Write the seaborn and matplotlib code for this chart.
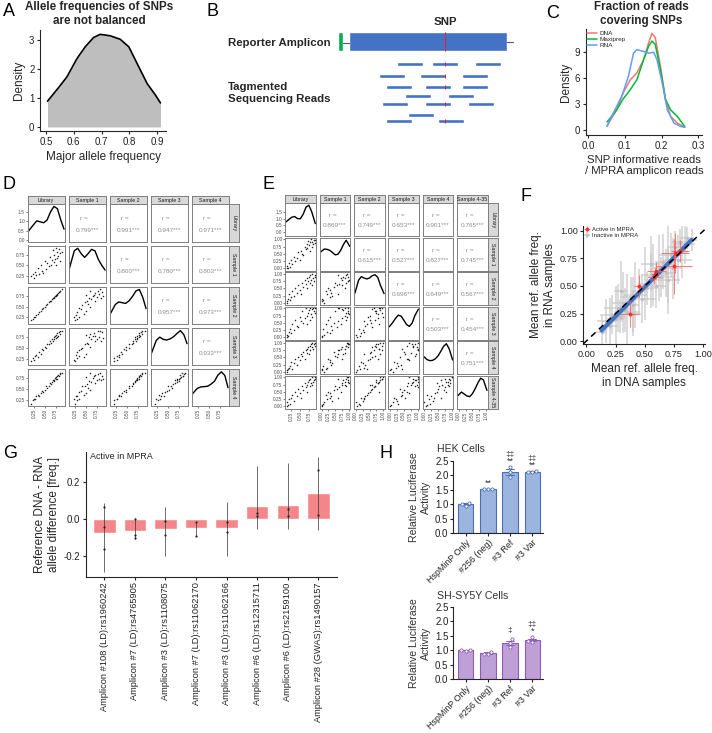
import matplotlib
matplotlib.use("Agg")
import matplotlib.pyplot as plt
import numpy as np
import pandas as pd
import seaborn as sns

W, H = 712, 733

# ---------------- A: major allele frequency density
maf_x = [0.505, 0.545, 0.575, 0.611, 0.641, 0.671, 0.695, 0.731, 0.767, 0.798, 0.828, 0.864, 0.894, 0.912]
maf_density = [0.89, 1.36, 1.73, 2.36, 2.77, 3.09, 3.2, 3.15, 3.03, 2.77, 2.19, 1.5, 1.1, 0.83]

# ---------------- B: reads along the reporter amplicon (amplicon units)
amplicon_len = 158
snp_pos = 96
read_len = 26
read_lanes = [64, 76, 87, 96, 104, 115, 121]
read_starts = [[48, 83, 126], [30, 71, 113], [37, 76, 113], [56, 99], [33, 76, 119], [59], [37, 89]]

# ---------------- C: fraction of reads covering SNPs
dna_x = [0.052, 0.078, 0.096, 0.115, 0.133, 0.151, 0.165, 0.174, 0.183, 0.197, 0.211, 0.225, 0.243, 0.263]
dna_y = [0.47, 2.3, 4.3, 5.8, 6.6, 8.1, 10.1, 11.2, 10.7, 7.4, 3.5, 1.55, 0.78, 0.3]
maxi_x = [0.052, 0.078, 0.096, 0.115, 0.133, 0.151, 0.165, 0.174, 0.183, 0.197, 0.211, 0.225, 0.243, 0.263]
maxi_y = [0.9, 2.3, 3.6, 4.65, 5.8, 8.1, 9.7, 10.3, 9.9, 7.0, 3.5, 2.3, 1.55, 0.39]
rna_x = [0.052, 0.069, 0.092, 0.11, 0.124, 0.133, 0.151, 0.165, 0.179, 0.188, 0.202, 0.216, 0.234, 0.252, 0.263]
rna_y = [0.39, 1.94, 3.9, 6.2, 8.9, 9.3, 9.1, 8.9, 9.0, 8.1, 5.4, 2.3, 0.78, 0.39, 0.3]

# ---------------- D: pairs of allele frequencies (plasmid samples)
d_names = ["Library", "Sample 1", "Sample 2", "Sample 3", "Sample 4"]
d_lib = [0.18, 0.22, 0.25, 0.28, 0.30, 0.33, 0.36, 0.40, 0.43, 0.46, 0.50, 0.53, 0.56, 0.60, 0.62,
         0.65, 0.67, 0.69, 0.70, 0.72, 0.73, 0.75, 0.76, 0.78, 0.79, 0.80, 0.82, 0.84, 0.86, 0.90]
d_s1 = [0.25, 0.30, 0.22, 0.35, 0.28, 0.45, 0.30, 0.50, 0.38, 0.33, 0.60, 0.42, 0.55, 0.48, 0.70,
        0.52, 0.62, 0.85, 0.58, 0.75, 0.66, 0.90, 0.50, 0.80, 0.68, 0.72, 0.88, 0.60, 0.78, 0.82]
d_s2 = [0.19, 0.21, 0.26, 0.27, 0.31, 0.32, 0.37, 0.39, 0.44, 0.47, 0.49, 0.54, 0.55, 0.61, 0.63,
        0.64, 0.68, 0.70, 0.69, 0.73, 0.74, 0.74, 0.77, 0.79, 0.78, 0.81, 0.83, 0.85, 0.85, 0.91]
d_s3 = [0.20, 0.26, 0.23, 0.32, 0.33, 0.30, 0.40, 0.36, 0.48, 0.44, 0.52, 0.50, 0.60, 0.58, 0.66,
        0.62, 0.70, 0.66, 0.75, 0.71, 0.78, 0.72, 0.80, 0.76, 0.84, 0.78, 0.86, 0.82, 0.88, 0.90]
d_s4 = [0.16, 0.24, 0.27, 0.26, 0.33, 0.36, 0.34, 0.42, 0.45, 0.43, 0.48, 0.56, 0.52, 0.58, 0.65,
        0.62, 0.66, 0.72, 0.68, 0.70, 0.76, 0.73, 0.78, 0.74, 0.80, 0.83, 0.79, 0.86, 0.84, 0.88]
d_grid = [0.11, 0.23, 0.31, 0.39, 0.47, 0.55, 0.63, 0.71, 0.79, 0.87, 0.945]
d_dens = [[0.47, 0.81, 1.03, 0.98, 0.93, 1.07, 1.5, 1.79, 1.67, 1.07, 0.59],
          [0.37, 0.88, 0.95, 0.8, 0.7, 0.8, 0.92, 0.88, 0.64, 0.48, 0.35],
          [0.27, 0.53, 0.6, 0.58, 0.56, 0.63, 0.75, 0.9, 0.94, 0.72, 0.42],
          [0.31, 0.69, 0.78, 0.72, 0.7, 0.73, 0.79, 0.88, 0.96, 0.85, 0.6],
          [0.34, 0.5, 0.54, 0.55, 0.56, 0.62, 0.7, 0.87, 0.96, 0.86, 0.52]]
d_r = ["0.799", "0.991", "0.947", "0.971", "0.800", "0.780", "0.803", "0.957", "0.973", "0.933"]

# ---------------- E: pairs of allele frequencies (RNA samples)
e_names = ["Library", "Sample 1", "Sample 2", "Sample 3", "Sample 4", "Sample 4-35"]
e_lib = [0.12, 0.14, 0.16, 0.18, 0.20, 0.25, 0.28, 0.32, 0.36, 0.40, 0.44, 0.48, 0.52, 0.55, 0.58,
         0.62, 0.65, 0.68, 0.70, 0.72, 0.74, 0.76, 0.78, 0.80, 0.82, 0.84, 0.86, 0.88, 0.90, 0.92]
e_s1 = [0.02, 0.10, 0.00, 0.20, 0.05, 0.30, 0.15, 0.40, 0.25, 0.35, 0.55, 0.30, 0.60, 0.50, 0.45,
        0.75, 0.65, 0.85, 0.70, 0.95, 0.80, 0.90, 0.60, 1.00, 0.75, 0.92, 0.85, 0.98, 0.88, 0.96]
e_s2 = [0.05, 0.00, 0.15, 0.30, 0.10, 0.20, 0.40, 0.25, 0.50, 0.35, 0.60, 0.45, 0.30, 0.70, 0.55,
        0.80, 0.65, 0.50, 0.85, 0.75, 0.90, 0.70, 0.95, 0.80, 0.60, 1.00, 0.85, 0.75, 0.95, 0.90]
e_s3 = [0.00, 0.10, 0.05, 0.20, 0.30, 0.15, 0.45, 0.25, 0.60, 0.40, 0.35, 0.70, 0.55, 0.90, 0.50,
        0.65, 1.00, 0.75, 0.45, 0.85, 0.95, 0.60, 1.00, 0.80, 0.98, 0.70, 1.00, 0.90, 0.85, 1.00]
e_s4 = [0.05, 0.00, 0.10, 0.15, 0.20, 0.35, 0.10, 0.30, 0.45, 0.25, 0.50, 0.40, 0.60, 0.55, 0.70,
        0.45, 0.75, 0.65, 0.80, 0.85, 0.60, 0.90, 0.75, 0.95, 0.85, 1.00, 0.80, 0.95, 0.90, 1.00]
e_s435 = [0.00, 0.15, 0.05, 0.25, 0.10, 0.30, 0.40, 0.20, 0.50, 0.35, 0.60, 0.45, 0.30, 0.70, 0.55,
          0.80, 0.65, 0.75, 0.50, 0.85, 0.90, 0.70, 0.95, 0.80, 0.75, 1.00, 0.85, 0.90, 0.95, 1.00]
e_lib_grid = [0.10, 0.18, 0.26, 0.34, 0.42, 0.50, 0.58, 0.66, 0.74, 0.82, 0.92]
e_grid = [-0.03, 0.1, 0.2, 0.3, 0.4, 0.5, 0.6, 0.7, 0.8, 0.9, 1.03]
e_dens = [[0.76, 0.95, 1.12, 1.18, 1.02, 1.0, 1.35, 1.9, 2.05, 1.55, 0.63],
          [0.57, 0.66, 0.65, 0.62, 0.55, 0.48, 0.5, 0.62, 0.8, 0.93, 0.74],
          [0.37, 0.76, 0.87, 0.83, 0.8, 0.83, 0.9, 0.93, 0.85, 0.6, 0.35],
          [0.41, 0.55, 0.68, 0.78, 0.75, 0.62, 0.48, 0.42, 0.52, 0.76, 0.97],
          [0.54, 0.44, 0.41, 0.42, 0.47, 0.56, 0.7, 0.85, 0.93, 0.78, 0.43],
          [0.39, 0.5, 0.44, 0.38, 0.36, 0.45, 0.6, 0.78, 0.92, 0.87, 0.55]]
e_r = ["0.869", "0.749", "0.653", "0.901", "0.765", "0.615", "0.527", "0.827", "0.745",
       "0.696", "0.649", "0.567", "0.503", "0.454", "0.751"]

# ---------------- F: DNA vs RNA mean reference allele frequency
act_x = [0.80, 0.76, 0.75, 0.60, 0.59, 0.58, 0.45, 0.37]
act_y = [0.82, 0.80, 0.68, 0.64, 0.61, 0.58, 0.50, 0.245]
act_xerr = [0.08, 0.12, 0.15, 0.08, 0.04, 0.05, 0.04, 0.08]
act_yerr = [0.1, 0.18, 0.25, 0.08, 0.05, 0.06, 0.1, 0.12]
inact_x = [0.13, 0.17, 0.20, 0.22, 0.25, 0.27, 0.29, 0.31, 0.33, 0.35, 0.38, 0.40, 0.42, 0.45, 0.48,
           0.50, 0.52, 0.55, 0.57, 0.60, 0.62, 0.64, 0.66, 0.68, 0.70, 0.72, 0.74, 0.76, 0.78, 0.80,
           0.82, 0.84, 0.86, 0.90, 0.70, 0.55, 0.40, 0.30]
inact_y = [0.08, 0.18, 0.14, 0.24, 0.20, 0.30, 0.22, 0.35, 0.28, 0.26, 0.40, 0.33, 0.42, 0.45, 0.38,
           0.52, 0.48, 0.55, 0.60, 0.50, 0.66, 0.58, 0.72, 0.62, 0.70, 0.78, 0.66, 0.85, 0.74, 0.90,
           0.82, 0.88, 0.94, 0.92, 0.55, 0.70, 0.25, 0.45]
inact_xerr = [0.05, 0.08, 0.06, 0.10, 0.07, 0.12, 0.05, 0.09, 0.06, 0.11, 0.08, 0.05, 0.10, 0.07, 0.12,
              0.06, 0.09, 0.05, 0.10, 0.08, 0.06, 0.11, 0.07, 0.09, 0.05, 0.10, 0.08, 0.06, 0.12, 0.07,
              0.05, 0.09, 0.06, 0.05, 0.10, 0.08, 0.07, 0.06]
inact_yerr = [0.15, 0.20, 0.25, 0.18, 0.30, 0.22, 0.15, 0.28, 0.20, 0.35, 0.18, 0.25, 0.30, 0.20, 0.22,
              0.33, 0.15, 0.25, 0.28, 0.20, 0.30, 0.18, 0.25, 0.22, 0.35, 0.20, 0.28, 0.15, 0.22, 0.12,
              0.25, 0.18, 0.10, 0.10, 0.30, 0.25, 0.20, 0.28]

# ---------------- G: DNA - RNA allele difference for active amplicons
g_labels = ["Amplicon #108 (LD):rs1960242", "Amplicon #7 (LD):rs4765905", "Amplicon #3 (LD):rs1108075",
            "Amplicon #7 (LD):rs11062170", "Amplicon #3 (LD):rs11062166", "Amplicon #6 (LD):rs12315711",
            "Amplicon #6 (LD):rs2159100", "Amplicon #28 (GWAS):rs1490157"]
g_mean = [-0.072, -0.066, -0.054, -0.048, -0.045, 0.071, 0.079, 0.14]
g_lo = [-0.282, -0.105, -0.2, -0.09, -0.197, -0.055, -0.055, -0.06]
g_hi = [0.089, 0.008, 0.067, -0.013, 0.093, 0.285, 0.3, 0.335]
g_points = [[0.065, -0.16, -0.04], [0.0, -0.085, -0.1], [-0.01, -0.083], [-0.015, -0.088],
            [-0.015, -0.07], [0.035, 0.02], [0.055, 0.02], [0.265, 0.022]]

# ---------------- H: luciferase assays
constructs = ["HspMinP Only", "#256 (neg)", "#3 Ref", "#3 Var"]
hek_reps = [[1.05, 0.95, 1.0], [1.52, 1.53, 1.51], [2.27, 2.1, 1.93], [2.12, 2.1, 2.14]]
hek_stars = ["", "**", "**", "**"]
hek_dagger = ["", "", "\u2021\u2021", "\u2021\u2021"]
sh_reps = [[1.0, 1.02, 0.99], [0.86, 0.95, 0.88], [1.38, 1.26, 1.12], [1.45, 1.33, 1.28]]
sh_stars = ["", "", "", "*"]
sh_dagger = ["", "", "\u2021", "\u2021\u2021"]

sns.set_theme(style="ticks")
plt.rcParams['font.family'] = ['Liberation Sans', 'DejaVu Sans']
plt.rcParams['axes.linewidth'] = 0.8
plt.rcParams['xtick.major.width'] = 0.8
plt.rcParams['ytick.major.width'] = 0.8
plt.rcParams['xtick.major.size'] = 2.5
plt.rcParams['ytick.major.size'] = 2.5
plt.rcParams['xtick.major.pad'] = 1.5
plt.rcParams['ytick.major.pad'] = 1.5

fig = plt.figure(figsize=(W / 100, H / 100), dpi=100)
TXT = '#222222'
LAB = 8.5
TICK = 7


def px_axes(x0, y0, x1, y1):
    return fig.add_axes([x0 / W, 1 - y1 / H, (x1 - x0) / W, (y1 - y0) / H])


def ftext(x, y, s, **kw):
    return fig.text(x / W, 1 - y / H, s, **kw)


for lab, lx, ly in [("A", 3, 11), ("B", 207, 11), ("C", 546, 13), ("D", 3, 184),
                    ("E", 262, 184), ("F", 521, 196), ("G", 3, 454), ("H", 379, 454)]:
    ftext(lx, ly, lab, fontsize=13, va='center', ha='left', color='black')

# ================= A
ax = px_axes(40, 30, 166, 131)
ax.fill_between(maf_x, maf_density, color='#BEBEBE', lw=0)
sns.lineplot(x=maf_x, y=maf_density, ax=ax, color='black', lw=1.2)
ax.set_xlim(0.478, 0.932)
ax.set_ylim(-0.14, 3.35)
ax.set_xticks([0.5, 0.6, 0.7, 0.8, 0.9])
ax.set_yticks([0, 1, 2, 3])
ax.tick_params(labelsize=TICK, colors=TXT)
ax.set_xlabel("Major allele frequency", fontsize=LAB, labelpad=3)
ax.set_ylabel("Density", fontsize=LAB, labelpad=3)
sns.despine(ax=ax)
ftext(99, 14, "Allele frequencies of SNPs\nare not balanced", fontsize=8.4, fontweight='bold',
      ha='center', va='center', linespacing=1.15)

# ================= B
ax = px_axes(330, 0, 520, 140)
ax.set_xlim(-19, 171)
ax.set_ylim(140, 0)
ax.axis('off')
ax.barh(41.5, amplicon_len, left=0, height=19, color='#4472C4')
ax.barh(41.5, 5, left=-11, height=19, color='#00B050')
ax.plot([-6, 0], [43, 43], color='#555555', lw=0.8)
ax.plot([amplicon_len, amplicon_len + 6], [41.5, 41.5], color='#555555', lw=0.8)
ax.vlines(snp_pos, 32, 51, color='#E8202A', lw=0.7)
for lane, starts in zip(read_lanes, read_starts):
    ax.barh([lane] * len(starts), [read_len] * len(starts), left=starts, height=3.5, color='#4472C4')
    for s in starts:
        if s < snp_pos < s + read_len:
            ax.vlines(snp_pos, lane - 1.75, lane + 1.75, color='#E8202A', lw=0.7)
ax.text(snp_pos, 22, "SNP", fontsize=8.2, fontweight='bold', ha='center', va='center')
ftext(228, 43, "Reporter Amplicon", fontsize=8.2, fontweight='bold', va='center')
ftext(228, 93, "Tagmented\nSequencing Reads", fontsize=8.2, fontweight='bold', va='center',
      linespacing=1.3)

# ================= C
cdf = pd.concat([pd.DataFrame({'x': dna_x, 'y': dna_y, 's': 'DNA'}),
                 pd.DataFrame({'x': maxi_x, 'y': maxi_y, 's': 'Maxiprep'}),
                 pd.DataFrame({'x': rna_x, 'y': rna_y, 's': 'RNA'})])
ax = px_axes(585.7, 29, 702, 135)
sns.lineplot(data=cdf, x='x', y='y', hue='s', sort=False, estimator=None, ax=ax, lw=1.1,
             palette={'DNA': '#F8766D', 'Maxiprep': '#00BA38', 'RNA': '#619CFF'})
ax.set_xlim(-0.006, 0.31)
ax.set_ylim(-0.6, 11.7)
ax.set_xticks([0, 0.1, 0.2, 0.3])
ax.set_xticklabels(["0.0", "0.1", "0.2", "0.3"])
ax.set_yticks([0, 3, 6, 9])
ax.tick_params(labelsize=TICK, colors=TXT)
ax.set_xlabel("SNP informative reads\n/ MPRA amplicon reads", fontsize=8.2, labelpad=3)
ax.set_ylabel("Density", fontsize=LAB, labelpad=2)
ax.legend(title=None, fontsize=4.6, frameon=False, loc='upper left', handlelength=1.6,
          borderaxespad=0.1, labelspacing=0.1, borderpad=0.1, handletextpad=0.4)
sns.despine(ax=ax)
ftext(641, 14, "Fraction of reads\ncovering SNPs", fontsize=8.4, fontweight='bold',
      ha='center', va='center', linespacing=1.15)


# ================= D, E pairs
def draw_pairs(cols, names, grids, dens, r_vals, left, top, px_, py_, cw, ch, lims, row1_ylim,
               ticks, row1_ticks):
    n = len(names)
    k = 0
    for i in range(n):
        for j in range(n):
            x0 = left + j * px_
            y0 = top + i * py_
            ax = px_axes(x0, y0, x0 + cw, y0 + ch)
            if i == j:
                sns.lineplot(x=grids[j], y=dens[j], ax=ax, color='black', lw=1.0)
                ax.set_xlim(lims[j])
                ax.set_ylim(row1_ylim if i == 0 else (0, max(dens[j]) * 1.08))
            elif i > j:
                sns.scatterplot(x=cols[j], y=cols[i], ax=ax, s=1.2, color='#222222', linewidth=0)
                ax.set_xlim(lims[j])
                ax.set_ylim(lims[i])
            else:
                ax.text(0.42, 0.625, "r =", transform=ax.transAxes, fontsize=4.6, color='#8C8C8C',
                        ha='center', va='center')
                ax.text(0.5, 0.31, r_vals[k] + "***", transform=ax.transAxes, fontsize=4.6,
                        color='#8C8C8C', ha='center', va='center')
                k += 1
            ax.set_xlabel("")
            ax.set_ylabel("")
            for sp in ax.spines.values():
                sp.set_color('#7F7F7F')
                sp.set_linewidth(0.7)
            ax.tick_params(length=1.2, width=0.5, labelsize=3.4, colors='#4D4D4D', pad=0.8)
            if i == n - 1:
                ax.set_xticks(ticks[j])
                ax.set_xticklabels(["%.2f" % t for t in ticks[j]], rotation=90)
            else:
                ax.set_xticks([])
            if j == 0 and i != j:
                ax.set_yticks(ticks[i])
                ax.set_yticklabels(["%.2f" % t for t in ticks[i]])
            elif i == 0 and j == 0:
                ax.set_yticks(row1_ticks)
                ax.set_yticklabels(["%.1f" % t for t in row1_ticks])
            else:
                ax.set_yticks([])
            if i == 0:
                st = px_axes(x0, y0 - 8.3, x0 + cw, y0)
                st.set_facecolor('#D9D9D9')
                st.set_xticks([])
                st.set_yticks([])
                for sp in st.spines.values():
                    sp.set_color('#7F7F7F')
                    sp.set_linewidth(0.7)
                st.text(0.5, 0.45, names[j], fontsize=3.8, ha='center', va='center', color='#1A1A1A')
            if j == n - 1:
                st = px_axes(x0 + cw, y0, x0 + cw + 10.3, y0 + ch)
                st.set_facecolor('#D9D9D9')
                st.set_xticks([])
                st.set_yticks([])
                for sp in st.spines.values():
                    sp.set_color('#7F7F7F')
                    sp.set_linewidth(0.7)
                st.text(0.5, 0.5, names[i], fontsize=3.8, ha='center', va='center', rotation=-90,
                        color='#1A1A1A')


d_ticks = [[0.25, 0.5, 0.75]] * 5
draw_pairs([d_lib, d_s1, d_s2, d_s3, d_s4], d_names, [d_grid] * 5, d_dens, d_r,
           27.7, 204.3, 41.0, 41.2, 37.0, 37.3, [(0.1, 0.96)] * 5, (-0.06, 1.9), d_ticks,
           [0.0, 0.5, 1.0, 1.5])

e_full = [0.0, 0.25, 0.5, 0.75, 1.0]
e_ticks = [[0.25, 0.5, 0.75]] + [e_full] * 5
draw_pairs([e_lib, e_s1, e_s2, e_s3, e_s4, e_s435], e_names, [e_lib_grid] + [e_grid] * 5, e_dens, e_r,
           285.3, 203.3, 34.3, 34.5, 30.7, 32.7, [(0.08, 0.94)] + [(-0.07, 1.05)] * 5, (-0.33, 2.2),
           e_ticks, [0.0, 0.5, 1.0, 1.5])

# ================= F
ax = px_axes(583.3, 226, 705, 344)
ax.errorbar(inact_x, inact_y, xerr=inact_xerr, yerr=inact_yerr, fmt='o', ms=1.5, color='#BDBDBD',
            ecolor='#C8C8C8', elinewidth=1.2, alpha=0.75, label='Inactive in MPRA', zorder=1)
ax.errorbar(act_x, act_y, xerr=act_xerr, yerr=act_yerr, fmt='o', ms=1.8, color='#FF2020',
            ecolor='#FF6060', elinewidth=0.8, alpha=0.8, label='Active in MPRA', zorder=3)
sns.regplot(x=inact_x + act_x, y=inact_y + act_y, scatter=False, ax=ax, color='#4472C4',
            line_kws={'lw': 3.0}, ci=95)
ax.axline((0, 0), slope=1, color='black', ls=(0, (4, 3)), lw=1.1, zorder=4)
ax.set_xlim(-0.026, 1.015)
ax.set_ylim(-0.027, 1.045)
ticks_f = [0, 0.25, 0.5, 0.75, 1.0]
ax.set_xticks(ticks_f)
ax.set_yticks(ticks_f)
ax.set_xticklabels(["%.2f" % t for t in ticks_f])
ax.set_yticklabels(["%.2f" % t for t in ticks_f])
ax.tick_params(labelsize=6.6, colors=TXT)
ax.set_xlabel("Mean ref. allele freq.\nin DNA samples", fontsize=LAB, labelpad=3)
ax.set_ylabel("Mean ref. allele freq.\nin RNA samples", fontsize=LAB, labelpad=3)
hnd, lbl = ax.get_legend_handles_labels()
ax.legend(hnd[::-1], lbl[::-1], fontsize=4.3, frameon=False, loc='upper left', handlelength=1.0,
          borderaxespad=0.1, labelspacing=0.15, borderpad=0.1, handletextpad=0.3)
sns.despine(ax=ax)

# ================= G
ax = px_axes(86, 451.7, 336.7, 576.7)
gdf = pd.DataFrame({'amp': g_labels, 'diff': g_mean})
sns.barplot(data=gdf, x='amp', y='diff', color='#F4868A', saturation=1, width=0.73, ax=ax,
            errorbar=None, zorder=1)
ax.vlines(range(len(g_labels)), g_lo, g_hi, color='#333333', lw=0.5, zorder=3)
px_rows = [(lab, v) for lab, pts in zip(g_labels, g_points) for v in pts]
pdf = pd.DataFrame(px_rows, columns=['amp', 'diff'])
sns.stripplot(data=pdf, x='amp', y='diff', order=g_labels, jitter=False, color='#222222', size=1.6,
              ax=ax, zorder=4)
ax.set_xlim(-0.6, 7.6)
ax.set_ylim(-0.309, 0.363)
ax.set_yticks([-0.2, 0.0, 0.2])
ax.set_yticklabels(["-0.2", "0.0", "0.2"])
ax.tick_params(axis='y', labelsize=TICK, colors=TXT)
ax.tick_params(axis='x', labelsize=6.7, colors=TXT, rotation=90)
ax.set_xlabel("")
ax.set_ylabel("Reference DNA - RNA\nallele difference [freq.]", fontsize=LAB, labelpad=3)
ax.text(0.016, 0.965, "Active in MPRA", transform=ax.transAxes, fontsize=6.5, va='center', color=TXT)
sns.despine(ax=ax)


# ================= H
def luciferase(box, reps, face, edge, title, title_y, stars, daggers):
    ax = px_axes(*box)
    rows = [(c, v) for c, rr in zip(constructs, reps) for v in rr]
    df = pd.DataFrame(rows, columns=['construct', 'activity'])
    sns.barplot(data=df, x='construct', y='activity', order=constructs, errorbar='se', capsize=0.35,
                color=face, saturation=1, edgecolor=edge, linewidth=0.8, width=0.69, ax=ax,
                err_kws={'linewidth': 0.7, 'color': edge})
    sns.swarmplot(data=df, x='construct', y='activity', order=constructs, size=2.3, color='white',
                  edgecolor=edge, linewidth=0.6, ax=ax)
    for k, rr in enumerate(reps):
        top = max(rr)
        if stars[k]:
            ax.text(k, top + 0.2, stars[k], ha='center', va='center', fontsize=6.5, color='#333333')
        if daggers[k]:
            dy = 0.45 if stars[k] else 0.3
            ax.text(k, top + dy, daggers[k], ha='center', va='center', fontsize=6, color='#333333')
    ax.set_xlim(-0.56, 3.5)
    ax.set_ylim(0, 2.5)
    ax.set_yticks([0, 0.5, 1.0, 1.5, 2.0, 2.5])
    ax.set_yticklabels(["0.0", "0.5", "1.0", "1.5", "2.0", "2.5"])
    ax.tick_params(axis='y', labelsize=TICK, colors=TXT, pad=1)
    ax.tick_params(axis='x', labelsize=6.4, colors=TXT, pad=1)
    ax.set_xticks(range(4))
    ax.set_xticklabels(constructs, rotation=45, ha='right', rotation_mode='anchor')
    ax.set_xlabel("")
    ax.set_ylabel("Relative Luciferase\nActivity", fontsize=7.6, labelpad=3, color='#333333')
    sns.despine(ax=ax)
    ftext(437, title_y, title, fontsize=7.6, va='center', color='#333333')


luciferase((453.3, 460.7, 543.3, 533.3), hek_reps, '#9CB5DE', '#4A6FB8', "HEK Cells", 449,
           hek_stars, hek_dagger)
luciferase((453.3, 606.7, 543.3, 679.3), sh_reps, '#BEA0D6', '#8B5DB8', "SH-SY5Y Cells", 596,
           sh_stars, sh_dagger)

fig.savefig("out.png", dpi=100)
